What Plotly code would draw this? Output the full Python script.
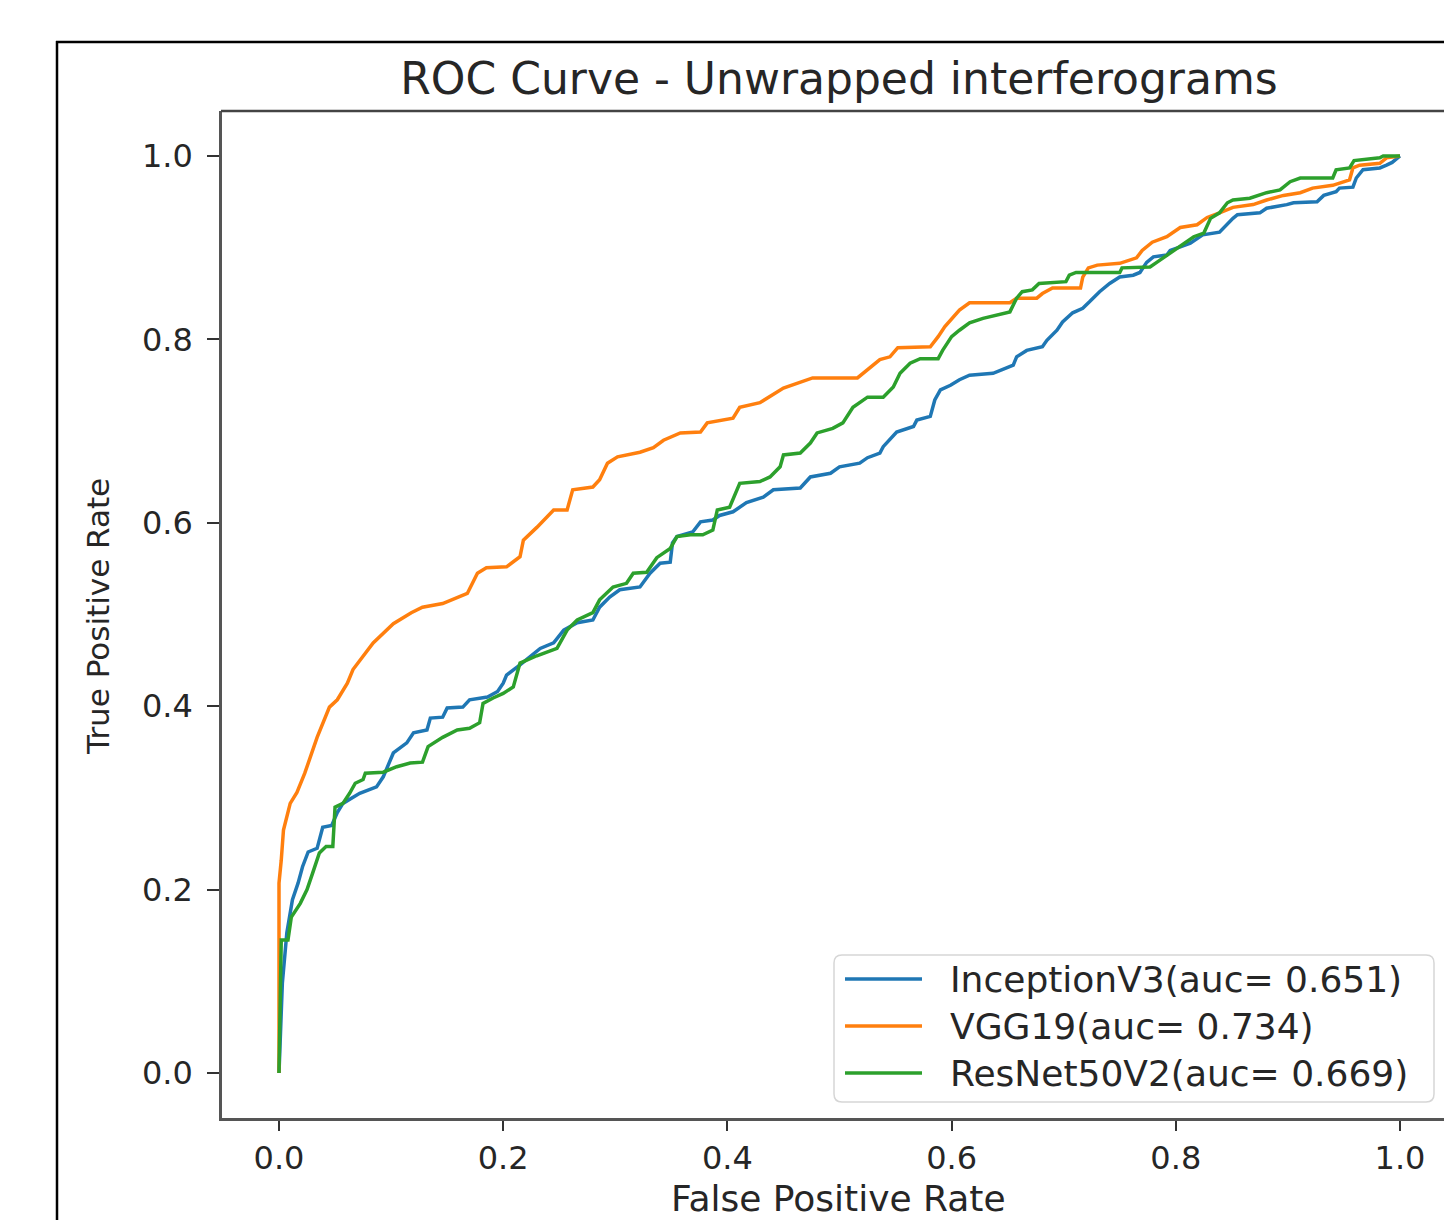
import plotly.graph_objects as go

# ---------------- data ----------------
models = ["InceptionV3", "VGG19", "ResNet50V2"]
auc_values = [0.651, 0.734, 0.669]
colors = ["#1f77b4", "#ff7f0e", "#2ca02c"]

inception_fpr = [0, 0.003, 0.007, 0.012, 0.017, 0.021, 0.026, 0.034, 0.039, 0.047, 0.052, 0.057,
                 0.072, 0.087, 0.093, 0.102, 0.114, 0.120, 0.132, 0.135, 0.146, 0.150, 0.164, 0.170,
                 0.186, 0.195, 0.200, 0.203, 0.215, 0.233, 0.245, 0.254, 0.266, 0.280, 0.286, 0.295,
                 0.304, 0.322, 0.331, 0.340, 0.349, 0.351, 0.355, 0.369, 0.376, 0.387, 0.393, 0.405,
                 0.417, 0.432, 0.441, 0.465, 0.474, 0.492, 0.500, 0.518, 0.525, 0.536, 0.539, 0.551,
                 0.566, 0.569, 0.581, 0.585, 0.590, 0.599, 0.607, 0.616, 0.637, 0.646, 0.655, 0.658,
                 0.667, 0.681, 0.685, 0.694, 0.699, 0.708, 0.717, 0.723, 0.732, 0.741, 0.750, 0.762,
                 0.768, 0.774, 0.780, 0.792, 0.795, 0.804, 0.813, 0.824, 0.839, 0.851, 0.855, 0.875,
                 0.881, 0.899, 0.905, 0.926, 0.932, 0.943, 0.946, 0.958, 0.961, 0.967, 0.982, 0.988,
                 0.993, 1.0]
inception_tpr = [0, 0.098, 0.153, 0.189, 0.207, 0.225, 0.241, 0.245, 0.268, 0.270, 0.284, 0.294,
                 0.305, 0.312, 0.323, 0.349, 0.360, 0.371, 0.374, 0.387, 0.388, 0.398, 0.399, 0.407,
                 0.410, 0.416, 0.425, 0.434, 0.445, 0.463, 0.469, 0.483, 0.491, 0.494, 0.508, 0.519,
                 0.527, 0.530, 0.545, 0.556, 0.557, 0.578, 0.585, 0.590, 0.601, 0.603, 0.608, 0.612,
                 0.622, 0.628, 0.636, 0.638, 0.650, 0.654, 0.661, 0.665, 0.671, 0.676, 0.683, 0.699,
                 0.705, 0.712, 0.716, 0.734, 0.745, 0.750, 0.756, 0.761, 0.763, 0.768, 0.772, 0.781,
                 0.788, 0.792, 0.799, 0.810, 0.819, 0.829, 0.834, 0.841, 0.852, 0.861, 0.868, 0.870,
                 0.873, 0.884, 0.890, 0.892, 0.897, 0.901, 0.905, 0.914, 0.917, 0.932, 0.936, 0.938,
                 0.943, 0.947, 0.949, 0.950, 0.957, 0.961, 0.965, 0.966, 0.976, 0.985, 0.987, 0.990,
                 0.993, 1.0]

vgg_fpr = [0, 0, 0, 0.002, 0.004, 0.010, 0.016, 0.023, 0.034, 0.045, 0.052, 0.061, 0.066, 0.084,
           0.102, 0.118, 0.128, 0.146, 0.168, 0.177, 0.185, 0.203, 0.215, 0.218, 0.230, 0.245,
           0.257, 0.262, 0.280, 0.286, 0.293, 0.302, 0.322, 0.334, 0.343, 0.358, 0.376, 0.382,
           0.405, 0.411, 0.429, 0.450, 0.467, 0.476, 0.516, 0.525, 0.536, 0.545, 0.552, 0.581,
           0.588, 0.594, 0.600, 0.607, 0.616, 0.652, 0.658, 0.676, 0.681, 0.690, 0.715, 0.717,
           0.722, 0.730, 0.750, 0.765, 0.770, 0.779, 0.792, 0.804, 0.819, 0.828, 0.839, 0.851,
           0.869, 0.881, 0.896, 0.911, 0.922, 0.940, 0.955, 0.958, 0.964, 0.982, 0.988, 1.0]
vgg_tpr = [0, 0.120, 0.207, 0.232, 0.265, 0.294, 0.306, 0.327, 0.366, 0.399, 0.407, 0.425, 0.440,
           0.469, 0.490, 0.502, 0.508, 0.512, 0.523, 0.545, 0.551, 0.552, 0.563, 0.581, 0.595,
           0.614, 0.614, 0.636, 0.639, 0.647, 0.665, 0.672, 0.677, 0.682, 0.690, 0.698, 0.699,
           0.709, 0.714, 0.726, 0.731, 0.747, 0.754, 0.758, 0.758, 0.767, 0.778, 0.781, 0.791,
           0.792, 0.803, 0.814, 0.823, 0.832, 0.840, 0.840, 0.845, 0.845, 0.850, 0.856, 0.856,
           0.868, 0.878, 0.881, 0.883, 0.889, 0.897, 0.906, 0.912, 0.922, 0.925, 0.933, 0.938,
           0.944, 0.947, 0.952, 0.957, 0.960, 0.965, 0.968, 0.974, 0.987, 0.990, 0.992, 0.998, 1.0]

resnet_fpr = [0, 0.001, 0.002, 0.008, 0.011, 0.019, 0.025, 0.030, 0.036, 0.042, 0.048, 0.050,
              0.057, 0.063, 0.068, 0.075, 0.077, 0.093, 0.105, 0.117, 0.128, 0.133, 0.146, 0.159,
              0.170, 0.179, 0.182, 0.191, 0.200, 0.209, 0.215, 0.230, 0.248, 0.257, 0.266, 0.280,
              0.286, 0.298, 0.310, 0.316, 0.328, 0.337, 0.349, 0.355, 0.367, 0.378, 0.387, 0.391,
              0.402, 0.411, 0.429, 0.438, 0.447, 0.450, 0.465, 0.474, 0.480, 0.494, 0.503, 0.512,
              0.525, 0.539, 0.548, 0.554, 0.563, 0.572, 0.588, 0.592, 0.600, 0.607, 0.616, 0.628,
              0.643, 0.652, 0.658, 0.663, 0.672, 0.678, 0.702, 0.705, 0.711, 0.750, 0.752, 0.777,
              0.783, 0.795, 0.804, 0.816, 0.825, 0.831, 0.839, 0.846, 0.851, 0.866, 0.881, 0.893,
              0.902, 0.911, 0.940, 0.943, 0.955, 0.959, 0.982, 0.985, 1.0]
resnet_tpr = [0, 0.116, 0.145, 0.145, 0.170, 0.185, 0.200, 0.218, 0.240, 0.247, 0.247, 0.290,
              0.294, 0.305, 0.316, 0.320, 0.327, 0.328, 0.334, 0.338, 0.339, 0.356, 0.366, 0.374,
              0.376, 0.382, 0.403, 0.409, 0.414, 0.421, 0.447, 0.455, 0.463, 0.483, 0.494, 0.502,
              0.516, 0.530, 0.534, 0.545, 0.546, 0.562, 0.572, 0.585, 0.587, 0.587, 0.592, 0.614,
              0.617, 0.643, 0.645, 0.650, 0.661, 0.674, 0.676, 0.687, 0.698, 0.703, 0.709, 0.726,
              0.737, 0.737, 0.748, 0.763, 0.774, 0.779, 0.779, 0.788, 0.803, 0.810, 0.818, 0.823,
              0.827, 0.830, 0.845, 0.852, 0.854, 0.861, 0.863, 0.870, 0.873, 0.873, 0.878, 0.879,
              0.884, 0.894, 0.901, 0.912, 0.916, 0.932, 0.938, 0.949, 0.952, 0.954, 0.960, 0.963,
              0.972, 0.976, 0.976, 0.985, 0.987, 0.995, 0.998, 1.0, 1.0]

x_tick_vals = [0.0, 0.2, 0.4, 0.6, 0.8, 1.0]
y_tick_vals = [0.0, 0.2, 0.4, 0.6, 0.8, 1.0]
tick_labels = ["0.0", "0.2", "0.4", "0.6", "0.8", "1.0"]

title_text = "ROC Curve - Unwrapped interferograms"
x_label = "False Positive Rate"
y_label = "True Positive Rate"

series_fpr = [inception_fpr, vgg_fpr, resnet_fpr]
series_tpr = [inception_tpr, vgg_tpr, resnet_tpr]

# ---------------- layout geometry (pixels) ----------------
W, H = 1444, 1220
L, R, T, B = 222, 1444, 111, 1118
FONT = "DejaVu Sans"
TXT = "#262626"


def px(xp):
    return (xp - L) / (R - L)


def py(yp):
    return (B - yp) / (B - T)


fig = go.Figure()
for name, auc, col, fx, ty in zip(models, auc_values, colors, series_fpr, series_tpr):
    fig.add_trace(go.Scatter(
        x=fx, y=ty, mode="lines", name=f"{name}(auc= {auc:.3f})",
        line=dict(color=col, width=3.5), showlegend=False,
    ))

shapes = []
annotations = []

# outer figure border (only top and left edges are visible, the rest is cropped)
shapes.append(dict(type="line", xref="paper", yref="paper",
                   x0=px(56), x1=px(1444), y0=py(42), y1=py(42),
                   line=dict(color="#000000", width=2.5)))
shapes.append(dict(type="line", xref="paper", yref="paper",
                   x0=px(57), x1=px(57), y0=py(41), y1=py(1220),
                   line=dict(color="#000000", width=2.5)))
# top spine of the axes
shapes.append(dict(type="line", xref="paper", yref="paper",
                   x0=px(L - 1), x1=px(1444), y0=1, y1=1,
                   line=dict(color="#444444", width=2.5)))

# custom legend box (rounded)
lx0, lx1, ly0, ly1 = 834, 1434, 955, 1102
rpx = 8
path = (f"M {px(lx0 + rpx)},{py(ly0)} L {px(lx1 - rpx)},{py(ly0)} "
        f"Q {px(lx1)},{py(ly0)} {px(lx1)},{py(ly0 + rpx)} "
        f"L {px(lx1)},{py(ly1 - rpx)} Q {px(lx1)},{py(ly1)} {px(lx1 - rpx)},{py(ly1)} "
        f"L {px(lx0 + rpx)},{py(ly1)} Q {px(lx0)},{py(ly1)} {px(lx0)},{py(ly1 - rpx)} "
        f"L {px(lx0)},{py(ly0 + rpx)} Q {px(lx0)},{py(ly0)} {px(lx0 + rpx)},{py(ly0)} Z")
shapes.append(dict(type="path", xref="paper", yref="paper", path=path,
                   line=dict(color="#d6d6d6", width=1.5), fillcolor="rgba(255,255,255,0.85)",
                   layer="above"))
row_y = [979, 1026, 1073]
for name, auc, col, yy in zip(models, auc_values, colors, row_y):
    shapes.append(dict(type="line", xref="paper", yref="paper",
                       x0=px(845), x1=px(922), y0=py(yy), y1=py(yy),
                       line=dict(color=col, width=3.5), layer="above"))
    annotations.append(dict(xref="paper", yref="paper", x=px(948), y=py(yy),
                            xanchor="left", yanchor="middle", showarrow=False,
                            text=f"{name}(auc= {auc:.3f})",
                            font=dict(family=FONT, size=36, color=TXT)))

# axis titles
annotations.append(dict(xref="paper", yref="paper", x=px(838), y=py(1198),
                        xanchor="center", yanchor="middle", showarrow=False, text=x_label,
                        font=dict(family=FONT, size=36, color=TXT)))
annotations.append(dict(xref="paper", yref="paper", x=px(98), y=py(617),
                        xanchor="center", yanchor="middle", showarrow=False, text=y_label,
                        textangle=-90, font=dict(family=FONT, size=31, color=TXT)))

fig.update_layout(
    width=W, height=H,
    margin=dict(l=L, r=W - R, t=T, b=H - B, autoexpand=False),
    paper_bgcolor="white", plot_bgcolor="white",
    title=dict(text=title_text, x=px(839), xref="paper", xanchor="center",
               y=1 - 79 / H, yref="container", yanchor="middle",
               font=dict(family=FONT, size=44, color=TXT)),
    shapes=shapes, annotations=annotations,
    showlegend=False,
)
fig.update_xaxes(
    range=[-57 / 1121, (R - 279) / 1121], tickvals=x_tick_vals, ticktext=tick_labels,
    showgrid=False, zeroline=False, showline=True, linecolor="#555555", linewidth=2.5,
    ticks="outside", ticklen=10, tickwidth=2, tickcolor="#333333",
    tickfont=dict(family=FONT, size=32, color=TXT),
)
fig.update_yaxes(
    range=[-45 / 917, 1 + 45 / 917], tickvals=y_tick_vals, ticktext=tick_labels,
    showgrid=False, zeroline=False, showline=True, linecolor="#555555", linewidth=2.5,
    ticks="outside", ticklen=12, tickwidth=2, tickcolor="#333333", ticklabelstandoff=8,
    tickfont=dict(family=FONT, size=32, color=TXT),
)

fig.write_html("out.html")
